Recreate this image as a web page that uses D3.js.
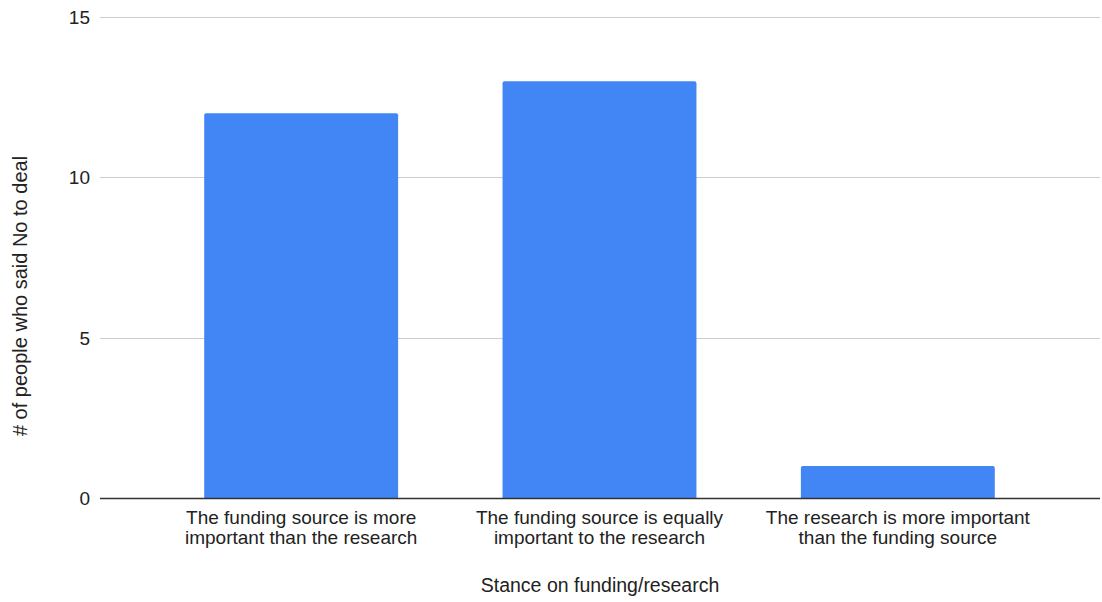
<!DOCTYPE html>
<html><head><meta charset="utf-8">
<script src="https://cdn.jsdelivr.net/npm/d3@7"></script>
<style>body{margin:0;background:#fff}svg{display:block;font-family:"Liberation Sans",Arial,sans-serif}</style>
</head><body>
<svg id="c" width="1102" height="602"></svg>
<script>
const categories = [
  ["The funding source is more", "important than the research"],
  ["The funding source is equally", "important to the research"],
  ["The research is more important", "than the funding source"]
];
const values = [12, 13, 1];
const yTicks = [0, 5, 10, 15];
const xTitle = "Stance on funding/research";
const yTitle = "# of people who said No to deal";

(function () {
const svg = d3.select("#c");
const pLeft = 100, pRight = 1100, pTop = 17, pBottom = 498;
const keys = categories.map((d, i) => i);
const x = d3.scaleBand().domain(keys).range([152, 1047]).paddingInner(0.35).paddingOuter(0.175);
const y = d3.scaleLinear().domain([0, 15]).range([pBottom, pTop]);

// gridlines
svg.append("g").selectAll("line").data(yTicks.filter(t => t !== 0)).join("line")
  .attr("x1", pLeft).attr("x2", pRight)
  .attr("y1", d => Math.round(y(d)) + 0.5).attr("y2", d => Math.round(y(d)) + 0.5)
  .attr("stroke", "#cccccc").attr("stroke-width", 1);

// tick labels
svg.append("g").selectAll("text").data(yTicks).join("text")
  .attr("x", 90).attr("y", d => y(d)).attr("dy", "0.36em")
  .attr("text-anchor", "end").attr("font-size", 19).attr("fill", "#222")
  .text(d => d);

// bars with rounded top corners
const r = 2;
svg.append("g").selectAll("path").data(values).join("path")
  .attr("fill", "#4285f4")
  .attr("d", (v, i) => {
    const x0 = x(i), w = x.bandwidth(), y0 = y(v), yb = y(0);
    return `M${x0},${yb}V${y0 + r}Q${x0},${y0} ${x0 + r},${y0}H${x0 + w - r}Q${x0 + w},${y0} ${x0 + w},${y0 + r}V${yb}Z`;
  });

// baseline
svg.append("line").attr("x1", pLeft).attr("x2", pRight)
  .attr("y1", y(0) + 0.5).attr("y2", y(0) + 0.5)
  .attr("stroke", "#333").attr("stroke-width", 1.5);

// category labels
const cl = svg.append("g").selectAll("text").data(categories).join("text")
  .attr("text-anchor", "middle").attr("font-size", 19).attr("fill", "#222")
  .attr("transform", (d, i) => `translate(${x(i) + x.bandwidth() / 2},524)`);
cl.selectAll("tspan").data(d => d).join("tspan")
  .attr("x", 0).attr("y", (d, j) => j * 19.5).text(d => d);

// axis titles
svg.append("text").attr("x", 600).attr("y", 592).attr("text-anchor", "middle")
  .attr("font-size", 19.5).attr("fill", "#222").text(xTitle);
svg.append("text").attr("transform", "translate(27,296) rotate(-90)")
  .attr("text-anchor", "middle").attr("font-size", 20).attr("fill", "#222").text(yTitle);
})();
</script>
</body></html>
